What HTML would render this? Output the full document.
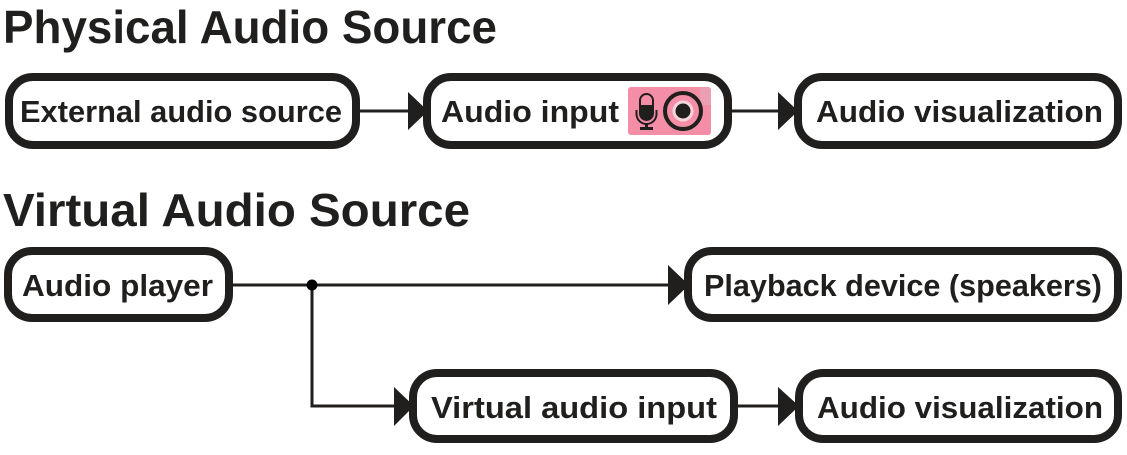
<!DOCTYPE html>
<html><head><meta charset="utf-8"><style>
html,body{margin:0;padding:0;background:#fff}
svg{display:block}
text{font-family:"Liberation Sans",sans-serif;font-weight:bold;fill:#201f1d}
.h{font-size:46px}
.t{font-size:31px}
rect.b{fill:#fff;stroke:#201f1d;stroke-width:8}
.l{fill:none;stroke:#201f1d;stroke-width:3}
.a{fill:#201f1d}
</style></head><body>
<svg width="1127" height="455" viewBox="0 0 1127 455" xmlns="http://www.w3.org/2000/svg">
<text class="h" x="3" y="43" textLength="494" lengthAdjust="spacingAndGlyphs">Physical Audio Source</text>
<text class="h" x="3" y="226" textLength="467" lengthAdjust="spacingAndGlyphs">Virtual Audio Source</text>

<path class="l" d="M358 111H410M730 111H780M231 285H670M312 285V406H396M736 406H780"/>
<circle cx="312" cy="285" r="5.500" fill="#000"/>
<path class="a" d="M408 92L428 111L408 130Z"/>
<path class="a" d="M778 92L798 111L778 130Z"/>
<path class="a" d="M668 265L689 285L668 305Z"/>
<path class="a" d="M394 387L414 406L394 426Z"/>
<path class="a" d="M778 387L799 406L778 426Z"/>

<rect class="b" x="9" y="77" width="347" height="68" rx="24"/>
<rect class="b" x="427" y="77" width="301" height="68" rx="24"/>
<rect class="b" x="798" y="77" width="320" height="68" rx="24"/>
<rect class="b" x="8" y="251" width="221" height="67" rx="24"/>
<rect class="b" x="688" y="251" width="430" height="67" rx="24"/>
<rect class="b" x="413" y="373" width="321" height="66" rx="24"/>
<rect class="b" x="799" y="373" width="319" height="66" rx="24"/>

<text class="t" x="20" y="122" textLength="322" lengthAdjust="spacingAndGlyphs">External audio source</text>
<text class="t" x="441" y="122" textLength="178" lengthAdjust="spacingAndGlyphs">Audio input</text>
<text class="t" x="816" y="122" textLength="287" lengthAdjust="spacingAndGlyphs">Audio visualization</text>
<text class="t" x="22" y="296" textLength="191" lengthAdjust="spacingAndGlyphs">Audio player</text>
<text class="t" x="704" y="296" textLength="398" lengthAdjust="spacingAndGlyphs">Playback device (speakers)</text>
<text class="t" x="431" y="418" textLength="286" lengthAdjust="spacingAndGlyphs">Virtual audio input</text>
<text class="t" x="817" y="418" textLength="286" lengthAdjust="spacingAndGlyphs">Audio visualization</text>

<!-- icon -->
<rect x="628" y="87" width="83" height="48" rx="3" fill="#f48ea6"/>
<path d="M700 87H708A3 3 0 0 1 711 90V105H700Z" fill="#e8a0b2"/>
<path d="M640 105H653V113.500A6.500 6.500 0 0 1 640 113.500Z" fill="#201f1d"/>
<rect x="640" y="94" width="13" height="26" rx="6.500" fill="none" stroke="#201f1d" stroke-width="2"/>
<path d="M636.500 110V114A10 10 0 0 0 656.500 114V110" fill="none" stroke="#201f1d" stroke-width="2"/>
<path d="M646.500 124V128" stroke="#201f1d" stroke-width="3"/>
<rect x="640" y="127" width="13" height="3" fill="#201f1d"/>
<circle cx="683" cy="111" r="18" fill="#f48ea6" stroke="#201f1d" stroke-width="4"/>
<circle cx="683" cy="111" r="10.500" fill="#f6d5dc"/>
<circle cx="683" cy="111" r="7.500" fill="#201f1d"/>
</svg>
</body></html>
